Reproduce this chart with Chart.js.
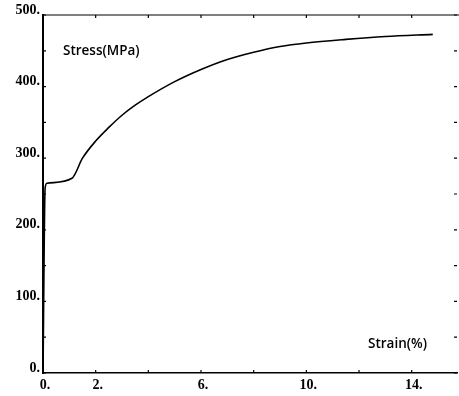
<!DOCTYPE html>
<html>
<head>
<meta charset="utf-8">
<script src="https://cdn.jsdelivr.net/npm/chart.js@4"></script>
<style>
  html, body { margin: 0; padding: 0; background: #fff; }
</style>
</head>
<body>
<canvas id="chart" width="459" height="396"></canvas>
<script>
// Strain (%) and stress (MPa)
const strain = [0, 0.08, 0.15, 1.1, 1.5, 2.0, 2.5, 3.0, 3.5, 4.0, 5.0, 6.0, 7.0, 8.0, 9.0, 10.0, 11.5, 13.0, 14.8];
const stress = [0, 258, 265, 272, 300, 324, 343, 360, 374, 386, 407, 424, 438, 448, 456, 461, 466, 470, 473];

// Tick labels shown on each axis
const xLabels = [0, 2, 6, 10, 14];
const yLabels = [0, 100, 200, 300, 400, 500];

const tickFont = { family: "Liberation Serif", size: 14, weight: "bold" };

// Inward tick marks, top border and the in-plot axis captions
const framePlugin = {
  id: "frame",
  afterDraw(chart) {
    const c = chart.ctx;
    const a = chart.chartArea;
    const xs = chart.scales.x;
    const ys = chart.scales.y;
    c.save();
    c.strokeStyle = "#000";
    c.lineWidth = 1.2;
    // top border
    c.beginPath();
    c.moveTo(a.left, a.top);
    c.lineTo(chart.width, a.top);
    c.stroke();
    // x ticks (bottom up, top down)
    xs.ticks.forEach((t) => {
      const px = xs.getPixelForValue(t.value);
      c.beginPath();
      c.moveTo(px, a.bottom);
      c.lineTo(px, a.bottom - 3);
      c.moveTo(px, a.top);
      c.lineTo(px, a.top + 3);
      c.stroke();
    });
    // y ticks (left and right, inward)
    ys.ticks.forEach((t) => {
      const py = ys.getPixelForValue(t.value);
      c.beginPath();
      c.moveTo(a.left, py);
      c.lineTo(a.left + 3, py);
      c.moveTo(a.right, py);
      c.lineTo(a.right - 3, py);
      c.stroke();
    });
    // captions
    c.fillStyle = "#000";
    c.font = "600 13.5px 'Open Sans'";
    c.textBaseline = "middle";
    c.textAlign = "left";
    c.fillText("Stress(MPa)", a.left + 20, a.top + 36);
    c.textAlign = "right";
    c.fillText("Strain(%)", a.right - 30, a.bottom - 29);
    c.restore();
  },
};

const ctx = document.getElementById("chart").getContext("2d");
const myChart = new Chart(ctx, {
  type: "line",
  data: {
    datasets: [
      {
        label: "Stress",
        data: strain.map((s, i) => ({ x: s, y: stress[i] })),
        borderColor: "#000",
        borderWidth: 1.6,
        pointRadius: 0,
        fill: false,
        cubicInterpolationMode: "monotone",
      },
    ],
  },
  options: {
    responsive: false,
    animation: false,
    layout: { padding: { top: 15, right: 2, left: 0, bottom: 0 } },
    plugins: {
      legend: { display: false },
      tooltip: { enabled: false },
    },
    scales: {
      x: {
        type: "linear",
        min: 0,
        max: 15.72,
        afterFit: (scale) => { scale.height = 23; },
        grid: { display: false, drawTicks: false },
        border: { display: true, color: "#000", width: 1.5 },
        ticks: {
          stepSize: 2,
          includeBounds: false,
          padding: 4,
          labelOffset: 2,
          color: "#000",
          font: tickFont,
          maxRotation: 0,
          autoSkip: false,
          callback: (v) => (xLabels.includes(v) ? v + "." : ""),
        },
      },
      y: {
        min: 0,
        max: 500,
        afterFit: (scale) => { scale.width = 43; },
        grid: { display: false, drawTicks: false },
        border: { display: true, color: "#000", width: 2 },
        ticks: {
          stepSize: 50,
          padding: 3,
          labelOffset: -5,
          color: "#000",
          font: tickFont,
          autoSkip: false,
          callback: (v) => (yLabels.includes(v) ? v + "." : ""),
        },
      },
    },
  },
  plugins: [framePlugin],
});
</script>
</body>
</html>
